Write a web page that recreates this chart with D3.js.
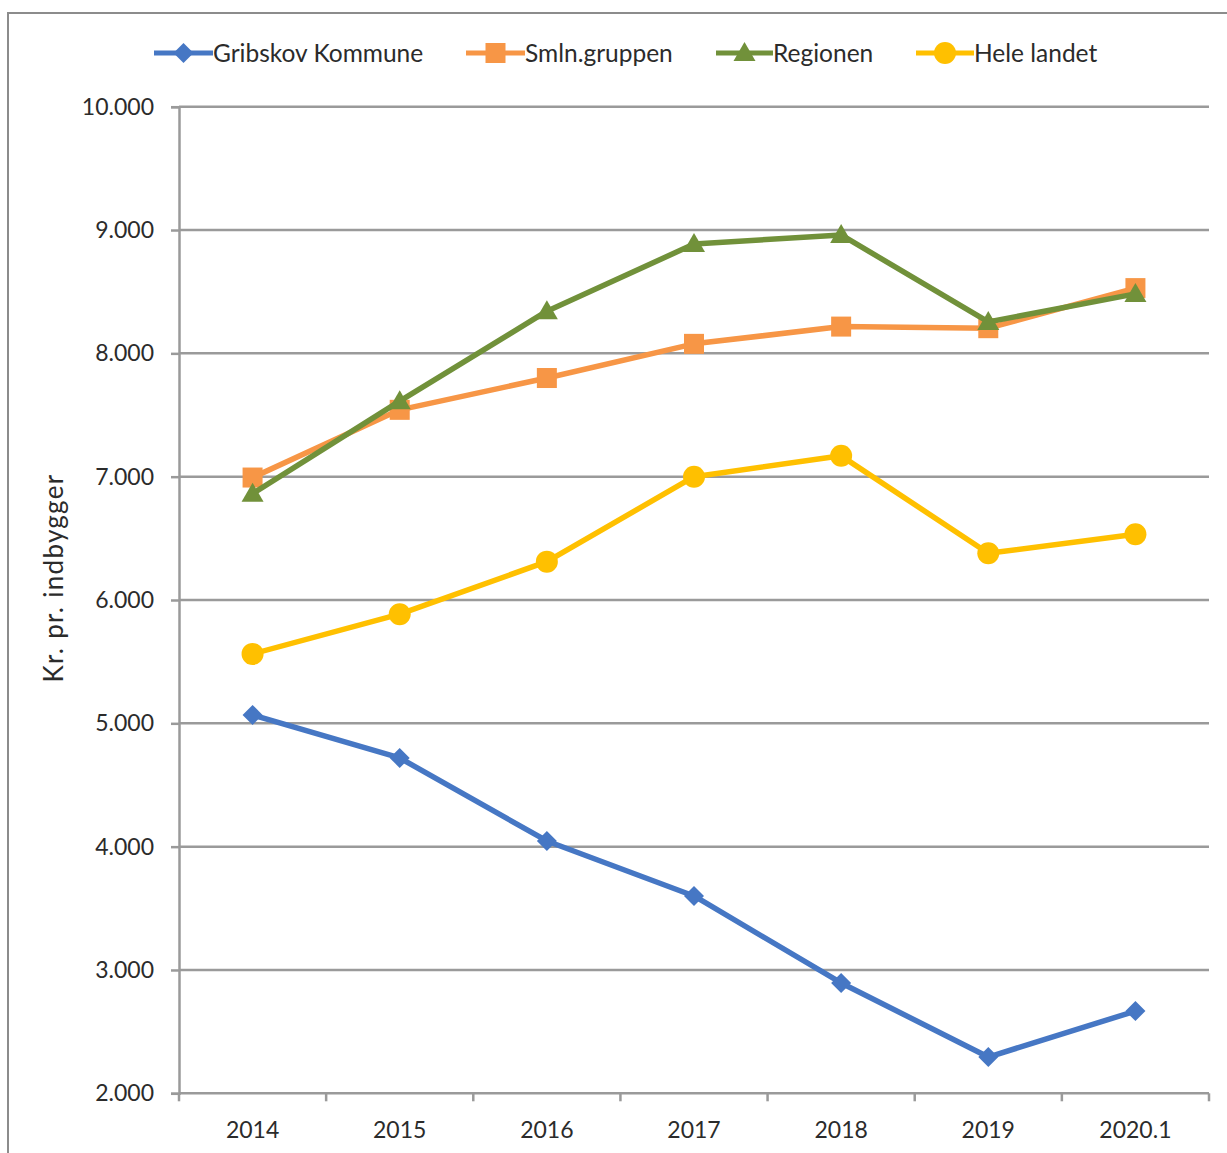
<!DOCTYPE html>
<html>
<head>
<meta charset="utf-8">
<script src="https://cdn.jsdelivr.net/npm/d3@7"></script>
<style>
  html, body { margin: 0; padding: 0; background: #fff; }
  svg { display: block; }
  text { font-family: Lato, "Open Sans", sans-serif; fill: #2b2b2b; }
</style>
</head>
<body>
<svg id="chart" width="1227" height="1153"></svg>
<script>
const categories = ["2014", "2015", "2016", "2017", "2018", "2019", "2020.1"];
const gribskov  = [5068, 4719, 4046, 3600, 2895, 2294, 2667];
const smln      = [6993, 7542, 7800, 8077, 8217, 8204, 8529];
const regionen  = [6862, 7612, 8342, 8886, 8960, 8255, 8482];
const heleLandet = [5563, 5885, 6311, 7000, 7169, 6379, 6533];
const seriesNames = ["Gribskov Kommune", "Smln.gruppen", "Regionen", "Hele landet"];
const yTicks = [2000, 3000, 4000, 5000, 6000, 7000, 8000, 9000, 10000];
const yTitle = "Kr. pr. indbygger";

const series = [
  { name: seriesNames[0], values: gribskov,  color: "#4677C4", marker: "diamond" },
  { name: seriesNames[1], values: smln,      color: "#F79646", marker: "square" },
  { name: seriesNames[2], values: regionen,  color: "#71913A", marker: "triangle" },
  { name: seriesNames[3], values: heleLandet, color: "#FFC000", marker: "circle" }
];

const svg = d3.select("#chart");
const M = { left: 179, right: 1209, top: 106.7, bottom: 1093.3 };

// outer frame
svg.append("rect").attr("x", 8).attr("y", 13).attr("width", 1240).attr("height", 1160)
  .attr("fill", "none").attr("stroke", "#8c8c8c").attr("stroke-width", 2);

const x = d3.scaleBand().domain(categories).range([M.left, M.right]).padding(0);
const y = d3.scaleLinear().domain([2000, 10000]).range([M.bottom, M.top]);

const fmt = v => d3.format(",")(v).replace(/,/g, ".");

// gridlines
svg.append("g").selectAll("line").data(yTicks.filter(t => t > 2000)).join("line")
  .attr("x1", M.left).attr("x2", M.right)
  .attr("y1", d => y(d)).attr("y2", d => y(d))
  .attr("stroke", "#9a9a9a").attr("stroke-width", 2.5);

// y axis
const yAxis = svg.append("g").attr("transform", `translate(${M.left},0)`)
  .call(d3.axisLeft(y).tickValues(yTicks).tickFormat(fmt).tickSize(8).tickPadding(17));
yAxis.select(".domain").attr("stroke", "#9a9a9a").attr("stroke-width", 2.5);
yAxis.selectAll(".tick line").attr("stroke", "#9a9a9a").attr("stroke-width", 2.5);
yAxis.selectAll(".tick text").style("font-size", "23px").attr("fill", "#2b2b2b")
  .style("font-family", "Lato, sans-serif");

// x axis: ticks at category boundaries
const xAxisG = svg.append("g").attr("transform", `translate(0,${M.bottom})`);
xAxisG.append("line").attr("x1", M.left).attr("x2", M.right).attr("y1", 0).attr("y2", 0)
  .attr("stroke", "#9a9a9a").attr("stroke-width", 2.5);
const boundaries = categories.map(c => x(c)).concat([x(categories[categories.length - 1]) + x.bandwidth()]);
xAxisG.selectAll("line.tk").data(boundaries).join("line").attr("class", "tk")
  .attr("x1", d => d).attr("x2", d => d).attr("y1", 0).attr("y2", 8)
  .attr("stroke", "#9a9a9a").attr("stroke-width", 2.5);
xAxisG.selectAll("text").data(categories).join("text")
  .attr("x", d => x(d) + x.bandwidth() / 2).attr("y", 45)
  .attr("text-anchor", "middle").style("font-size", "23px").text(d => d);

// y title
svg.append("text")
  .attr("transform", `translate(63,578) rotate(-90)`)
  .attr("text-anchor", "middle").style("font-size", "26px").style("letter-spacing", "1.3px").text(yTitle);

const cx = c => x(c) + x.bandwidth() / 2;

function drawMarker(g, type, px, py, color) {
  if (type === "diamond") {
    g.append("path").attr("d", `M${px},${py - 10}L${px + 10},${py}L${px},${py + 10}L${px - 10},${py}Z`).attr("fill", color);
  } else if (type === "square") {
    g.append("rect").attr("x", px - 10).attr("y", py - 10).attr("width", 20).attr("height", 20).attr("fill", color);
  } else if (type === "triangle") {
    g.append("path").attr("d", `M${px},${py - 11}L${px + 11},${py + 8}L${px - 11},${py + 8}Z`).attr("fill", color);
  } else {
    g.append("circle").attr("cx", px).attr("cy", py).attr("r", 11).attr("fill", color);
  }
}

const line = d3.line().x((d, i) => cx(categories[i])).y(d => y(d));
series.forEach(s => {
  const g = svg.append("g");
  g.append("path").datum(s.values).attr("d", line)
    .attr("fill", "none").attr("stroke", s.color).attr("stroke-width", 5.5).attr("stroke-linejoin", "round");
  s.values.forEach((v, i) => drawMarker(g, s.marker, cx(categories[i]), y(v), s.color));
});

// legend
const legendItems = [
  { lx: 154, tx: 213 },
  { lx: 466, tx: 525 },
  { lx: 716, tx: 773 },
  { lx: 916, tx: 974 }
];
const ly = 53;
series.forEach((s, i) => {
  const g = svg.append("g");
  const it = legendItems[i];
  g.append("line").attr("x1", it.lx).attr("x2", it.tx).attr("y1", ly).attr("y2", ly)
    .attr("stroke", s.color).attr("stroke-width", 5);
  drawMarker(g, s.marker, (it.lx + it.tx) / 2, ly, s.color);
  g.append("text").attr("x", it.tx).attr("y", ly + 9).style("font-size", "24.5px").text(s.name);
});
</script>
</body>
</html>
